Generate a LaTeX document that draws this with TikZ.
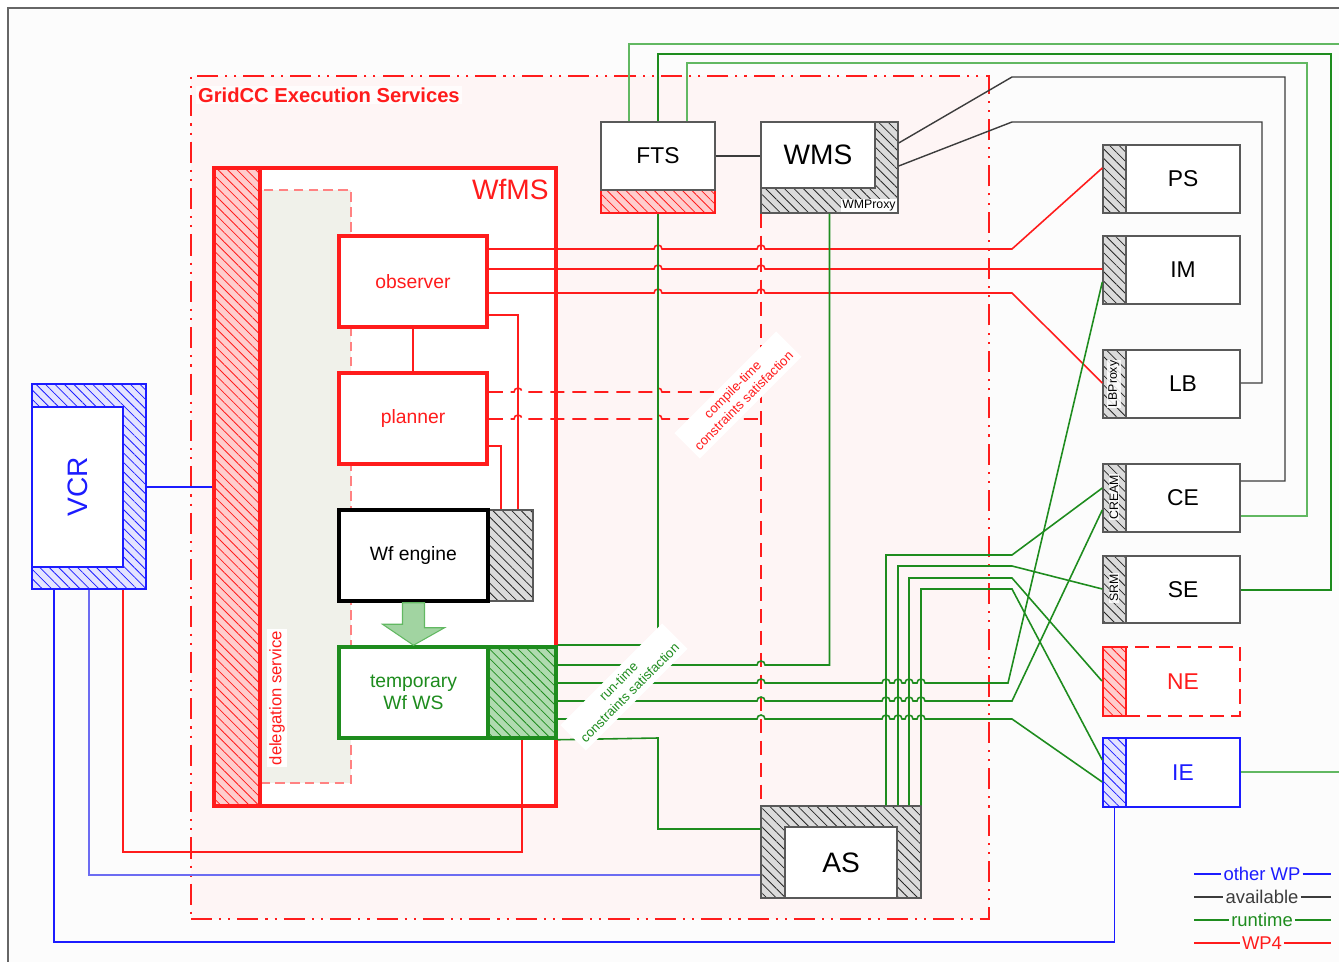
\documentclass[tikz,border=0pt]{standalone}
\usepackage{fontspec}
\setmainfont{Liberation Sans}
\usetikzlibrary{patterns.meta,fit}
\definecolor{wpred}{HTML}{FF1C1C}
\definecolor{rtgreen}{HTML}{1E8C1E}
\definecolor{rtlight}{HTML}{62B862}
\definecolor{avgray}{HTML}{3C3C3C}
\definecolor{wpblue}{HTML}{1C1CFF}
\definecolor{wplight}{HTML}{6C6CF2}
\definecolor{zonepink}{HTML}{FEF5F5}
\definecolor{delegfill}{HTML}{F0F1EA}
\newcommand{\fsz}[1]{\fontsize{#1}{#1}\selectfont}

\begin{document}
\begin{tikzpicture}[x=0.02cm,y=-0.02cm,
      fitbox/.style={fit={#1},inner sep=0pt},
      box/.style={draw=avgray!85,line width=0.8pt,fill=white},
      redbox/.style={draw=wpred,line width=2pt,fill=white},
      lbl/.style={inner sep=0pt,font=\fsz{13}},
      redlbl/.style={inner sep=0pt,text=wpred,font=\fsz{11}},
      hatch/.style={pattern={Lines[angle=-45,distance=3.8pt,line width=0.45pt]},pattern color=#1},
      grayhatch/.style={preaction={fill=black!14},hatch=black!85,draw=avgray!85,line width=0.8pt},
      redhatch/.style={preaction={fill=wpred!22},hatch=wpred,draw=wpred,line width=0.8pt},
      greenhatch/.style={preaction={fill=rtlight!50},hatch=rtgreen,draw=rtgreen,line width=2pt},
      bluehatch/.style={preaction={fill=wpblue!12},hatch=wpblue,draw=wpblue,line width=0.8pt},
      tag/.style={rotate=90,fill=white,fill opacity=0.85,text opacity=1,inner sep=0.6pt,font=\fsz{7}},
      slant/.style={rotate=45,fill=white,align=center,inner sep=3pt,font=\fontsize{7.5}{9}\selectfont},
      wp4/.style={draw=wpred,line width=0.9pt},
      runtime/.style={draw=rtgreen,line width=0.9pt},
      avail/.style={draw=avgray,line width=0.8pt},
      otherwp/.style={draw=wpblue,line width=0.8pt},
      dashr/.style={dash pattern=on 8pt off 4.5pt},
      hop/.style={insert path={arc[start angle=180,end angle=360,radius=4]}},
      legend/.style={inner sep=1pt,font=\fsz{10.5}}]
    %% -- frame and GridCC zone --------------------------------
    \useasboundingbox (0,0) rectangle (1339,962);
    \draw[black!60,line width=1pt,fill=black!1] (8,8) rectangle (1380,1000);
    \node[fitbox={(191,76) (989,919)},draw=wpred,line width=1.1pt,fill=zonepink,
          dash pattern=on 12pt off 4pt on 1.2pt off 4pt on 1.2pt off 4pt] (gridcc) {};
    \node[anchor=west,text=wpred,font=\bfseries\fsz{11.5},fill=zonepink!30!white,inner sep=1pt] (gridlbl) at (196,95) {GridCC Execution Services};
    %% -- WfMS block -------------------------------------------
    \node[fitbox={(214,168) (556,806)},redbox] (wfms) {};
    \node[fitbox={(260,190) (351,783)},draw=wpred!55,line width=0.8pt,dash pattern=on 5.5pt off 3pt,fill=delegfill] (deleg) {};
    \node[fitbox={(214,168) (260,806)},redhatch,line width=2pt] (delstrip) {};
    \node[anchor=east,text=wpred,font=\fsz{16},inner sep=0pt] (wfmslbl) at (549,189) {WfMS};
    \node[rotate=90,fill=white,text=wpred,font=\fsz{9.5},inner sep=1pt] (deleglbl) at (277,698) {delegation service};
    \node[fitbox={(339,236) (487,327)},redbox] (obs) {};
    \node[redlbl] (obslbl) at (obs) {observer};
    \node[fitbox={(339,373) (487,464)},redbox] (plan) {};
    \node[redlbl] (planlbl) at (plan) {planner};
    \node[fitbox={(488,510) (533,601)},grayhatch] (enghatch) {};
    \node[fitbox={(339,510) (488,601)},draw=black,line width=2pt,fill=white] (eng) {};
    \node[lbl,font=\fsz{11}] (englbl) at (eng) {Wf engine};
    \node[fitbox={(488,647) (556,738)},greenhatch] (tmphatch) {};
    \node[fitbox={(339,647) (488,738)},draw=rtgreen,line width=2pt,fill=white] (tmpws) {};
    \node[lbl,text=rtgreen,align=center,font=\fontsize{11}{12.5}\selectfont] (tmplbl) at (tmpws) {temporary\\Wf WS};
    \filldraw[fill=rtlight!60,draw=rtlight,line width=0.6pt] (eng.south) ++(-11,0) -- ++(22,0) -- ++(0,25) -- ++(20,0)
        -- (tmpws.north) -- ++(-31,-21) -- ++(20,0) -- cycle;
    %% -- FTS, WMS, AS, VCR ------------------------------------
    \node[fitbox={(601,190) (715,213)},redhatch,line width=0.6pt] (ftshatch) {};
    \node[fitbox={(601,122) (715,190)},box] (fts) {};
    \node[lbl] (ftslbl) at (fts) {FTS};
    \node[fitbox={(761,122) (898,213)},grayhatch] (wms) {};
    \node[fitbox={(761,122) (875,188)},box] (wmsbody) {};
    \node[lbl,font=\fsz{16}] (wmslbl) at (wmsbody) {WMS};
    \node[anchor=south east,fill=white,inner sep=0.6pt,font=\fsz{7}] (wmproxy) at (897,212) {WMProxy};
    \node[fitbox={(761,806) (921,898)},grayhatch] (as) {};
    \node[fitbox={(785,827) (897,898)},box] (asbody) {};
    \node[lbl,font=\fsz{16}] (aslbl) at (asbody) {AS};
    \node[fitbox={(32,384) (146,589)},bluehatch,line width=1pt] (vcr) {};
    \node[fitbox={(32,407) (123,567)},draw=wpblue,line width=0.8pt,fill=white] (vcrbody) {};
    \node[rotate=90,text=wpblue,font=\fsz{16},inner sep=0pt] (vcrlbl) at (vcrbody) {VCR};
    %% -- right column -----------------------------------------
    \node[fitbox={(1103,145) (1240,213)},grayhatch] (ps) {};
    \node[fitbox={(1126,145) (1240,213)},box] (psbody) {};
    \node[lbl] (pslbl) at (psbody) {PS};
    \node[fitbox={(1103,236) (1240,304)},grayhatch] (im) {};
    \node[fitbox={(1126,236) (1240,304)},box] (imbody) {};
    \node[lbl] (imlbl) at (imbody) {IM};
    \node[fitbox={(1103,350) (1240,418)},grayhatch] (lb) {};
    \node[fitbox={(1126,350) (1240,418)},box] (lbbody) {};
    \node[lbl] (lblbl) at (lbbody) {LB};
    \node[fitbox={(1103,464) (1240,532)},grayhatch] (ce) {};
    \node[fitbox={(1126,464) (1240,532)},box] (cebody) {};
    \node[lbl] (celbl) at (cebody) {CE};
    \node[fitbox={(1103,556) (1240,623)},grayhatch] (se) {};
    \node[fitbox={(1126,556) (1240,623)},box] (sebody) {};
    \node[lbl] (selbl) at (sebody) {SE};
    \node[fitbox={(1126,647) (1240,716)},draw=wpred,line width=1pt,dash pattern=on 8pt off 4pt,fill=white] (nebody) {};
    \node[lbl,text=wpred] (nelbl) at (nebody) {NE};
    \node[fitbox={(1103,647) (1126,716)},redhatch,line width=1.2pt] (ne) {};
    \node[fitbox={(1126,738) (1240,807)},draw=wpblue,line width=0.8pt,fill=white] (iebody) {};
    \node[lbl,text=wpblue] (ielbl) at (iebody) {IE};
    \node[fitbox={(1103,738) (1126,807)},bluehatch] (ie) {};
    \node[tag] (lbproxy) at (1114,384) {LBProxy};
    \node[tag] (cream) at (1114,497) {CREAM};
    \node[tag] (srm) at (1114,588) {SRM};
    \coordinate (ftsout) at (1345,44);
    \coordinate (ieout) at (1345,772);
    %% -- WP4 (red) links --------------------------------------
    \draw[wp4] (obs) -- (plan);
    \draw[wp4] (obs.east |- 0,249) -- (654,249) [hop] -- (757,249) [hop] -- (1012,249) -- (ps.west |- 0,168);
    \draw[wp4] (obs.east |- 0,269) -- (654,269) [hop] -- (757,269) [hop] -- (im.west |- 0,269);
    \draw[wp4] (obs.east |- 0,293) -- (654,293) [hop] -- (757,293) [hop] -- (1012,293) -- (lb.west |- 0,383);
    \draw[wp4] (obs.east |- 0,315) -| (enghatch.north -| 518,0);
    \draw[wp4] (plan.east |- 0,446) -| (enghatch.north -| 501,0);
    \draw[wp4,dashr] (plan.east |- 0,392) -- (514,392) [hop] -- (654,392) [hop] -- (761,392);
    \draw[wp4,dashr] (plan.east |- 0,419) -- (514,419) [hop] -- (654,419) [hop] -- (761,419);
    \draw[wp4,dashr] (wms.south -| 761,0) -- (as.north -| 761,0);
    \draw[wp4] (vcr.south -| 123,0) -- (123,852) -| (tmphatch.south -| 522,0);
    %% -- runtime (green) links --------------------------------
    \draw[runtime] (tmphatch.north east) -| (ftshatch.south);
    \draw[runtime] (tmphatch.east |- 0,665) -- (757,665) [hop] -| (wms.south);
    \draw[runtime] (tmphatch.east |- 0,683) -- (757,683) [hop] -- (882,683) [hop] -- (894,683) [hop]
        -- (905,683) [hop] -- (917,683) [hop] -- (1008,683) -- (im.west |- 0,282);
    \draw[runtime] (tmphatch.east |- 0,701) -- (757,701) [hop] -- (882,701) [hop] -- (894,701) [hop]
        -- (905,701) [hop] -- (917,701) [hop] -- (1012,701) -- (ce.west |- 0,510);
    \draw[runtime] (tmphatch.east |- 0,719) -- (757,719) [hop] -- (882,719) [hop] -- (894,719) [hop]
        -- (905,719) [hop] -- (917,719) [hop] -- (1012,719) -- (ie.west |- 0,782);
    \draw[runtime] (tmphatch.south east) -- (658,738) |- (as.west |- 0,829);
    \draw[runtime] (as.north -| 886,0) |- (1012,555) -- (ce.west |- 0,488);
    \draw[runtime] (as.north -| 898,0) |- (1012,566) -- (se.west |- 0,589);
    \draw[runtime] (as.north -| 909,0) |- (1012,578) -- (ne.west |- 0,681);
    \draw[runtime] (as.north -| 921,0) |- (1012,589) -- (ie.west |- 0,760);
    \draw[runtime,draw=rtlight] (fts.north -| 629,0) |- (ftsout);
    \draw[runtime] (fts.north -| 658,0) |- (1331,54) |- (se.east |- 0,590);
    \draw[runtime,draw=rtlight] (fts.north -| 687,0) |- (1307,63) |- (ce.east |- 0,516);
    \draw[runtime,draw=rtlight] (iebody.east |- 0,772) -- (ieout);
    %% -- available (black) links ------------------------------
    \draw[avail] (fts.east) -- (fts.east -| wmsbody.west);
    \draw[avail] (wms.east |- 0,143) -- (1012,77) -- (1285,77) |- (ce.east |- 0,481);
    \draw[avail] (wms.east |- 0,166) -- (1012,122) -- (1262,122) |- (lb.east |- 0,383);
    %% -- other WP (blue) links --------------------------------
    \draw[otherwp] (vcr.east |- 0,487) -- (delstrip.west |- 0,487);
    \draw[otherwp,draw=wplight] (vcr.south -| 89,0) |- (as.west |- 0,875);
    \draw[otherwp] (vcr.south -| 54,0) -- (54,942) -| (ie.south);
    %% -- slanted labels ---------------------------------------
    \node[slant,text=wpred] (ctlbl) at (738,395) {compile-time\\constraints satisfaction};
    \node[slant,text=rtgreen] (rtlbl) at (624,687) {run-time\\constraints satisfaction};
    %% -- legend -----------------------------------------------
    \node[legend,text=wpblue] (lgother) at (1262,874) {other WP};
    \node[legend,text=avgray] (lgavail) at (1262,897) {available};
    \node[legend,text=rtgreen] (lgrun) at (1262,920) {runtime};
    \node[legend,text=wpred] (lgwp) at (1262,943) {WP4};
    \draw[otherwp] (lgother.west -| 1194,0) -- (lgother.west) (lgother.east) -- (lgother.east -| 1331,0);
    \draw[avail] (lgavail.west -| 1194,0) -- (lgavail.west) (lgavail.east) -- (lgavail.east -| 1331,0);
    \draw[runtime] (lgrun.west -| 1194,0) -- (lgrun.west) (lgrun.east) -- (lgrun.east -| 1331,0);
    \draw[wp4] (lgwp.west -| 1194,0) -- (lgwp.west) (lgwp.east) -- (lgwp.east -| 1331,0);
\end{tikzpicture}
\end{document}
